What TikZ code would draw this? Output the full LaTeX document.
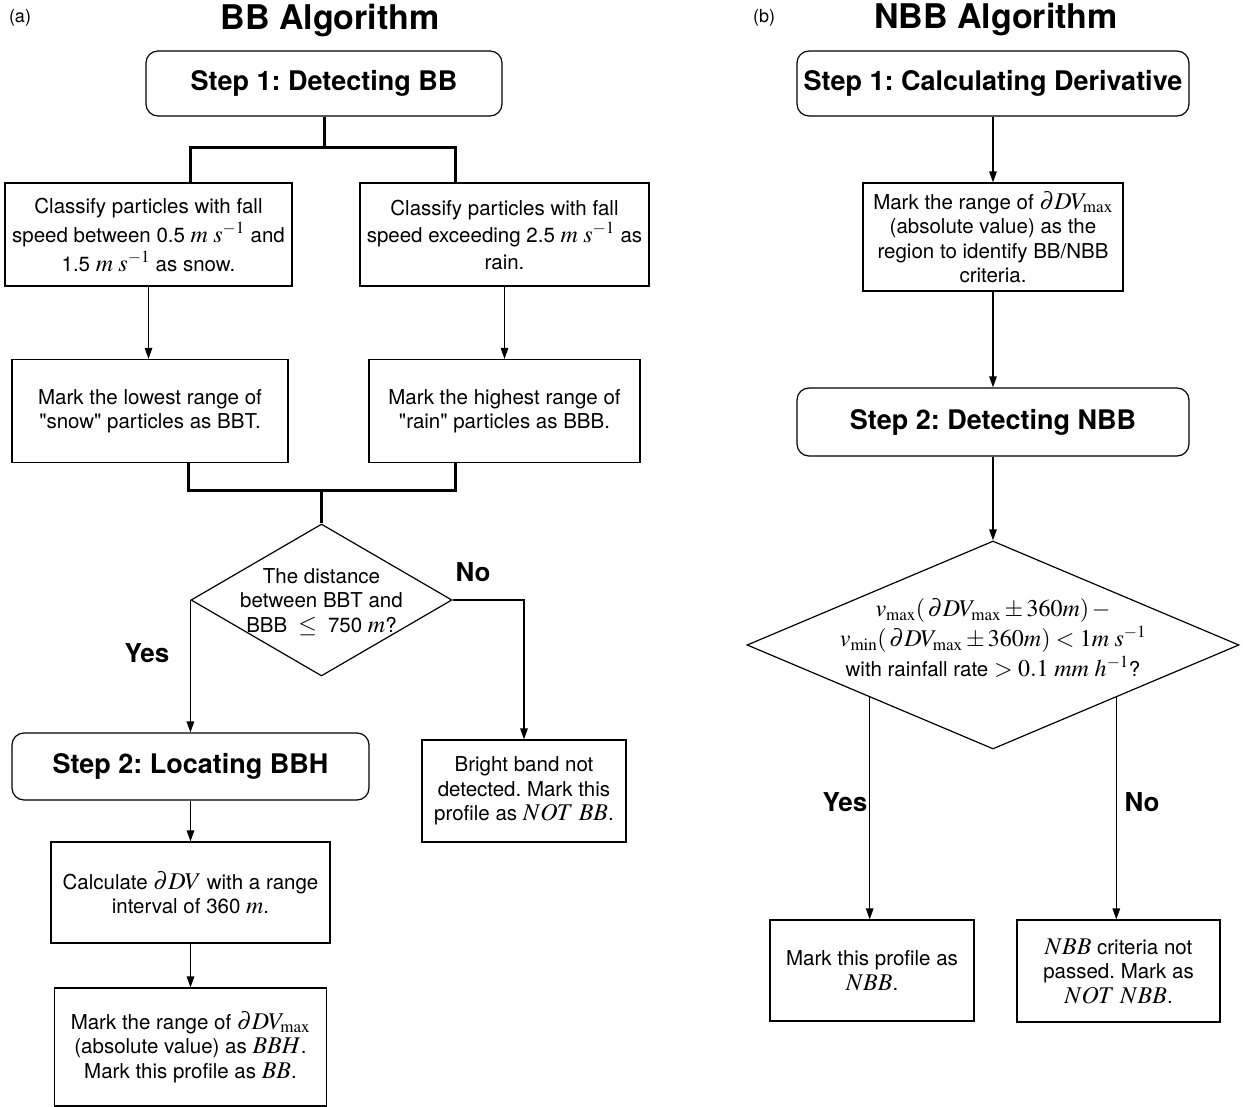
\documentclass[tikz,border=0pt]{standalone}
\usepackage{mathptmx}
\usepackage[no-math]{fontspec}
\setmainfont{TeX Gyre Heros}
\DeclareMathSizes{20.5}{24}{17}{13}
\usetikzlibrary{arrows.meta,shapes.geometric,positioning}
\frenchspacing

\begin{document}
\begin{tikzpicture}[x=1pt,y=-1pt,
    box/.style={draw,line width=1.2pt,align=center,inner sep=2pt,font=\fontsize{20.5}{24.5}\selectfont},
    stepbox/.style={draw,line width=1.2pt,rounded corners=12pt,inner sep=2pt,font=\fontsize{27}{32}\selectfont\bfseries},
    decision/.style={draw,diamond,line width=1.2pt,inner sep=0pt},
    txt/.style={align=center,font=\fontsize{20.5}{24.5}\selectfont},
    lbl/.style={font=\fontsize{26}{30}\selectfont\bfseries},
    title/.style={font=\fontsize{34}{40}\selectfont\bfseries},
    arr/.style={line width=1.4pt,-{Triangle[length=11pt,width=7.5pt]}},
    bar/.style={line width=3pt}]
\useasboundingbox (0,0) rectangle (1243,1107);

% (a) BB algorithm
\node[font=\fontsize{18}{20}\selectfont] (pa) at (20,18) {(a)};
\node[title] (ta) at (330,21) {BB Algorithm};
\node[stepbox,minimum width=356pt,minimum height=65pt] (s1) at (324,83.5) {Step 1: Detecting BB};

\node[box,minimum width=287pt,minimum height=103pt,font=\fontsize{20.5}{29}\selectfont] (snow) at (148.5,234.5)
    {Classify particles with fall\\speed between 0.5 $m\;s^{-1}$ and\\1.5 $m\;s^{-1}$ as snow.};
\node[box,minimum width=289pt,minimum height=103pt,font=\fontsize{20.5}{27}\selectfont] (rain) at (504.5,234.5)
    {Classify particles with fall\\speed exceeding 2.5 $m\;s^{-1}$ as\\rain.};
\node[box,minimum width=276pt,minimum height=103pt] (bbt) at (150,411)
    {Mark the lowest range of\\\textquotedbl snow\textquotedbl{} particles as BBT.};
\node[box,minimum width=271pt,minimum height=103pt] (bbb) at (504.5,411)
    {Mark the highest range of\\\textquotedbl rain\textquotedbl{} particles as BBB.};

\node[decision,minimum width=261pt,minimum height=152pt] (d1) at (321.5,600) {};
\node[txt] (d1t) at (321.5,602) {The distance\\between BBT and\\BBB $\;\leq\;$ 750 $m$?};

\node[stepbox,minimum width=357pt,minimum height=67pt] (s2) at (190.5,766.5) {Step 2: Locating BBH};
\node[box,minimum width=204pt,minimum height=102pt] (notbb) at (524,791)
    {Bright band not\\detected. Mark this\\profile as $NOT\ BB$.};
\node[box,minimum width=279pt,minimum height=101pt] (calc) at (190.5,892.5)
    {Calculate $\partial DV$ with a range\\interval of 360 $m$.};
\node[box,minimum width=272pt,minimum height=118pt] (bbh) at (190.5,1047)
    {Mark the range of $\partial DV_{\max}$\\(absolute value) as $BBH$.\\Mark this profile as $BB$.};

\draw[bar] (s1.south) -- ++(0,31) coordinate (j1);
\draw[bar] (snow.north -| 190,0) |- (j1) -| (rain.north -| 455,0);
\draw[arr] (snow.south) -- (snow.south |- bbt.north);
\draw[arr] (rain.south) -- (rain.south |- bbb.north);

\coordinate (j2) at (321.5,490);
\draw[bar] (bbt.south -| 188,0) |- (j2) -| (bbb.south -| 455,0);
\draw[bar] (j2) -- (d1.north);

\draw[arr] (d1.west) -- (d1.west |- s2.north);
\node[lbl] (yes1) at (147,653) {Yes};
\draw[arr] (d1.east) -| (notbb.north);
\node[lbl] (no1) at (473,572) {No};
\draw[arr] (s2.south) -- (calc.north);
\draw[arr] (calc.south) -- (bbh.north);

% (b) NBB algorithm
\node[font=\fontsize{18}{20}\selectfont] (pb) at (764,18) {(b)};
\node[title] (tb) at (996,20) {NBB Algorithm};
\node[stepbox,minimum width=392pt,minimum height=65pt] (r1) at (993,83.5) {Step 1: Calculating Derivative};
\node[box,minimum width=260pt,minimum height=108pt] (rng) at (993,237)
    {Mark the range of $\partial DV_{\max}$\\(absolute value) as the\\region to identify BB/NBB\\criteria.};
\node[stepbox,minimum width=392pt,minimum height=68pt] (r2) at (993,422) {Step 2: Detecting NBB};

\node[decision,minimum width=492pt,minimum height=208pt] (d2) at (993,645) {};
\node[txt,font=\fontsize{20.5}{30}\selectfont] (d2t) at (993,638)
    {$v_{\max}(\,\partial DV_{\max}\pm 360m)\,-$\\$v_{\min}(\,\partial DV_{\max}\pm 360m) < 1m\;s^{-1}$\\with rainfall rate $> 0.1\ mm\ h^{-1}$?};

\node[box,minimum width=204pt,minimum height=101pt] (nbb) at (872,970.5)
    {Mark this profile as\\$NBB$.};
\node[box,minimum width=203pt,minimum height=102pt] (notnbb) at (1118.5,971)
    {$NBB$ criteria not\\passed. Mark as\\$NOT\ NBB$.};

\draw[arr] (r1) -- (rng);
\draw[arr] (rng) -- (r2);
\draw[arr] (r2) -- (d2.north);
\draw[arr] (d2.south west) -- (d2.south west |- nbb.north);
\node[lbl] (yes2) at (845,802) {Yes};
\draw[arr] (d2.south east) -- (d2.south east |- notnbb.north);
\node[lbl] (no2) at (1142,802) {No};
\end{tikzpicture}
\end{document}
